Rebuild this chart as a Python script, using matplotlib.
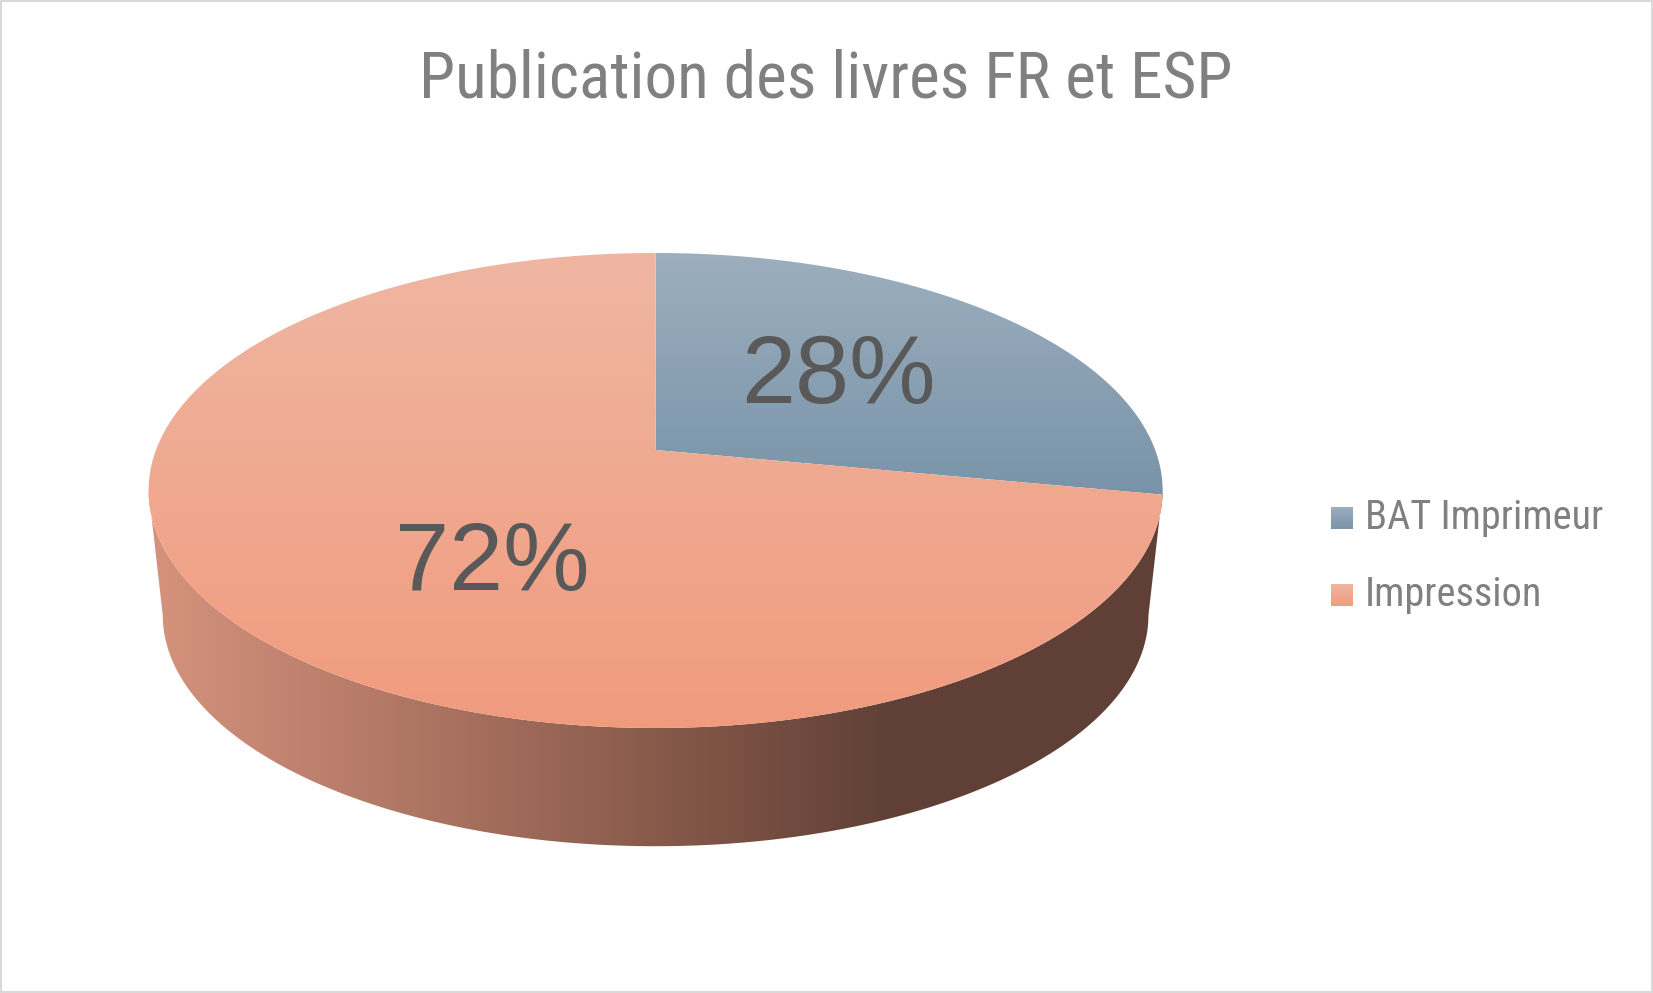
import numpy as np
import matplotlib
matplotlib.use("Agg")
import matplotlib.pyplot as plt
from matplotlib.patches import Polygon, Rectangle
from matplotlib import font_manager

# ---------------- data ----------------
title = "Publication des livres FR et ESP"
categories = ["BAT Imprimeur", "Impression"]
values = [28, 72]
pct_labels = ["28%", "72%"]

# ---------------- style ----------------
top_cols = [((157, 175, 190), (120, 147, 168)),   # blue slice gradient (top->bottom)
            ((239, 182, 162), (241, 155, 126))]   # salmon slice gradient
side_stops_x = [150, 400, 620, 890, 1170]
side_stops_c = [(213, 147, 125), (177, 119, 101), (142, 94, 78), (96, 64, 54), (96, 64, 54)]
label_pos = [(838, 403), (492, 590)]

W, H = 1653, 993
fig = plt.figure(figsize=(W / 100, H / 100), dpi=100)
ax = fig.add_axes([0, 0, 1, 1])
ax.set_xlim(0, W)
ax.set_ylim(H, 0)
ax.axis("off")

avail = {f.name for f in font_manager.fontManager.ttflist}


def pick(names):
    for n in names:
        if n in avail:
            return n
    return "DejaVu Sans"


narrow = pick(["Liberation Sans Narrow", "Roboto Condensed", "DejaVu Sans Condensed", "Liberation Sans"])
is_narrow = narrow != "Liberation Sans"
arial = pick(["Liberation Sans", "Arimo", "DejaVu Sans"])

# ---------------- geometry (perspective pie) ----------------
cx, cy = 655.6, 450.0
A, B, k = 499.6, 230.6, 0.1705
sb, cyb = 0.972, 576.0


def top(t):
    u, v = np.cos(t), np.sin(t)
    w = 1 + k * v
    return np.column_stack([cx + A * u / w, cy - B * v / w])


def bot(t):
    u, v = np.cos(t), np.sin(t)
    w = 1 + k * v
    return np.column_stack([cx + sb * A * u / w, cyb - sb * B * v / w])


def grad_fill(xy, c0, c1, vertical=True, z=1):
    patch = Polygon(xy, closed=True, facecolor="none", edgecolor="none")
    ax.add_patch(patch)
    xmin, ymin = xy.min(axis=0)
    xmax, ymax = xy.max(axis=0)
    ramp = np.linspace(0, 1, 256)[:, None]
    c0 = np.array(c0) / 255.0
    c1 = np.array(c1) / 255.0
    cols = c0 + (c1 - c0) * ramp
    img = cols[:, None, :] if vertical else cols[None, :, :]
    im = ax.imshow(img, extent=(xmin - 1, xmax + 1, ymax + 1, ymin - 1), origin="upper",
                   aspect="auto", interpolation="bilinear", zorder=z)
    im.set_clip_path(patch)


# side
tl = np.pi + np.arcsin(k)
tr = 2 * np.pi - np.arcsin(k)
ts = np.linspace(tl, tr, 300)
side_xy = np.vstack([top(ts), bot(ts[::-1])])
side_patch = Polygon(side_xy, closed=True, facecolor="none", edgecolor="none")
ax.add_patch(side_patch)
xs = np.linspace(0, W, 800)
sc = np.column_stack([np.interp(xs, side_stops_x, [c[i] for c in side_stops_c]) for i in range(3)]) / 255.0
im = ax.imshow(sc[None, :, :], extent=(0, W, 900, 400), origin="upper", aspect="auto",
               interpolation="bilinear", zorder=1)
im.set_clip_path(side_patch)

# top face wedges (start at 12 o'clock, clockwise)
total = float(sum(values))
start = np.pi / 2
for i, val in enumerate(values):
    end = start - 2 * np.pi * val / total
    tt = np.linspace(start, end, 400)
    xy = np.vstack([[cx, cy], top(tt)])
    grad_fill(xy, top_cols[i][0], top_cols[i][1], vertical=True, z=2 + i * 0.1)
    start = end

# percent labels
for (x, y), s in zip(label_pos, pct_labels):
    ax.text(x, y, s, ha="center", va="baseline", fontsize=70, color="#595959",
            family=arial, zorder=5)

# title
ax.text(826, 97, title, ha="center", va="baseline", fontsize=47 if is_narrow else 40,
        color="#808080", family=narrow, zorder=5)

# legend
leg_y = [507, 584]
for i, name in enumerate(categories):
    sq = np.array([[1331, leg_y[i]], [1353, leg_y[i]], [1353, leg_y[i] + 22], [1331, leg_y[i] + 22]])
    grad_fill(sq, top_cols[i][0], top_cols[i][1], vertical=True, z=5)
    ax.text(1365, leg_y[i] + 22, name, ha="left", va="baseline",
            fontsize=29 if is_narrow else 26, color="#808080", family=narrow, zorder=5)

# chart border
ax.add_patch(Rectangle((1, 1), W - 2, H - 2, facecolor="none", edgecolor="#D9D9D9", lw=1.5, zorder=6))

fig.savefig("out.png", dpi=100, facecolor="white")
